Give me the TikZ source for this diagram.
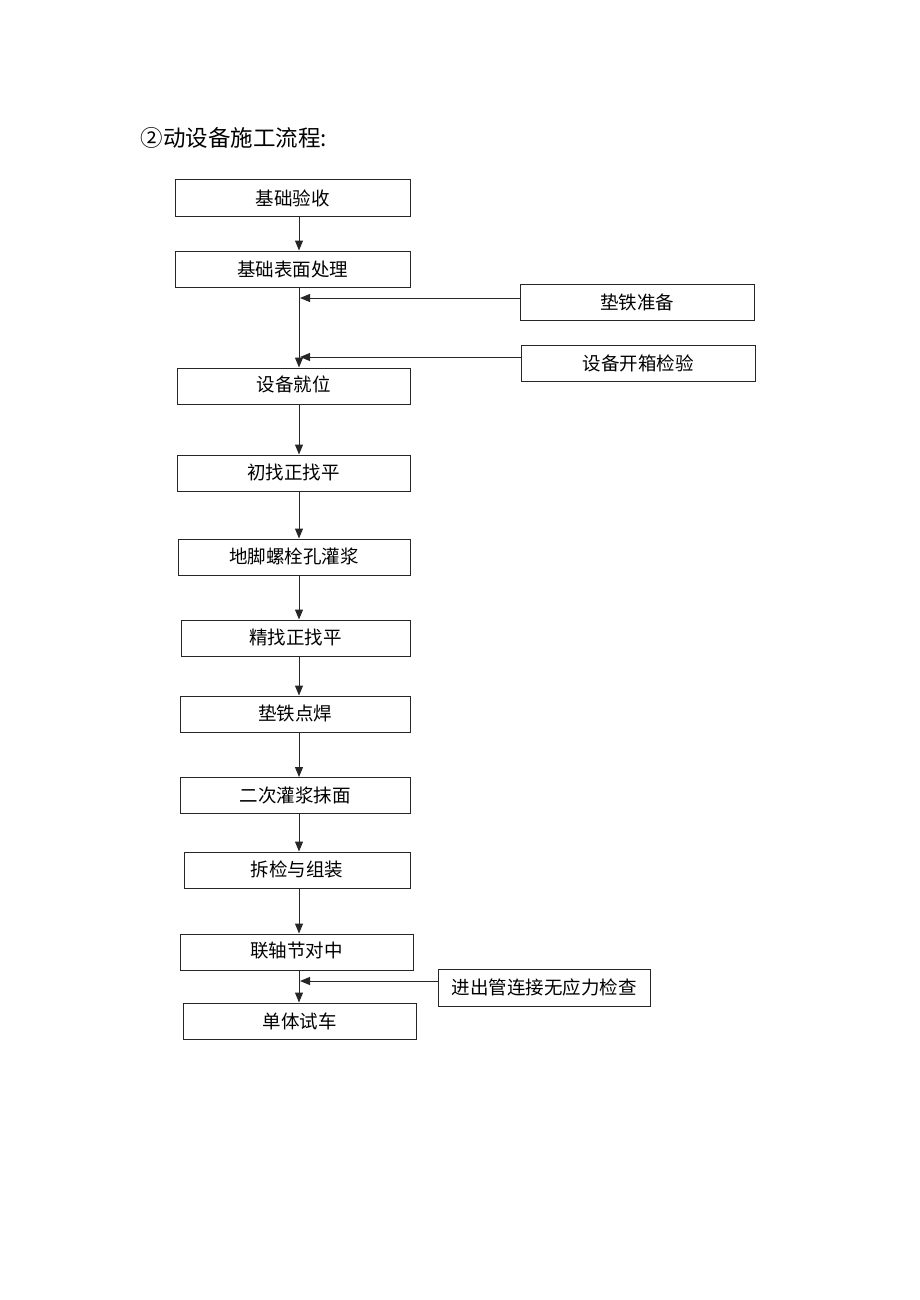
\documentclass[tikz,border=0pt]{standalone}
\usepackage{fontspec}
\setmainfont{Noto Sans CJK SC}
\usetikzlibrary{arrows.meta,calc}
\tikzset{
  box/.style={draw=black!85, line width=1pt, rectangle, inner sep=0pt, minimum height=36pt, font=\fontsize{18.5}{21}\selectfont},
  arr/.style={draw=black!85, line width=1pt, -{Triangle[length=10pt,width=8pt]}},
}
\begin{document}
\begin{tikzpicture}[x=1pt,y=-1pt]
\path[use as bounding box] (0,0) rectangle (920,1300);
\node[anchor=west, font=\fontsize{22.5}{26}\selectfont] (title) at (137,138) {②动设备施工流程:};
\coordinate (sp) at (299,0);
\node[box, minimum width=235pt] (b1) at (292.5,198) {基础验收};
\node[box, minimum width=235pt] (b2) at (292.5,269) {基础表面处理};
\node[box, minimum width=234pt] (b3) at (637,302) {垫铁准备};
\node[box, minimum width=234pt] (b4) at (638,363) {设备开箱检验};
\node[box, minimum width=233pt] (b5) at (293.5,386) {\raisebox{4pt}{设备就位}};
\node[box, minimum width=233pt] (b6) at (293.5,473) {\raisebox{3pt}{初找正找平}};
\node[box, minimum width=232pt] (b7) at (294,557) {\raisebox{3pt}{地脚螺栓孔灌浆}};
\node[box, minimum width=229pt] (b8) at (295.5,638) {\raisebox{3pt}{精找正找平}};
\node[box, minimum width=230pt] (b9) at (295,714) {\raisebox{3pt}{垫铁点焊}};
\node[box, minimum width=230pt] (b10) at (295,795.5) {\raisebox{2pt}{二次灌浆抹面}};
\node[box, minimum width=226pt] (b11) at (297,870) {\raisebox{2pt}{拆检与组装}};
\node[box, minimum width=233pt] (b12) at (296.5,952) {\raisebox{4pt}{联轴节对中}};
\node[box, minimum width=212pt, minimum height=37pt] (b13) at (544,987.5) {\raisebox{-3pt}{进出管连接无应力检查}};
\node[box, minimum width=233pt] (b14) at (299.5,1021) {单体试车};
\coordinate (j1) at (300,298);
\coordinate (j2) at (300,357);
\coordinate (j3) at (300,981);
\draw[arr] (b1.south -| sp) -- (b2.north -| sp);
\draw[arr] (b2.south -| sp) -- (b5.north -| sp);
\draw[arr] (b3.west |- j1) -- (j1);
\draw[arr] (b4.west |- j2) -- (j2);
\draw[arr] (b5.south -| sp) -- (b6.north -| sp);
\draw[arr] (b6.south -| sp) -- (b7.north -| sp);
\draw[arr] (b7.south -| sp) -- (b8.north -| sp);
\draw[arr] (b8.south -| sp) -- (b9.north -| sp);
\draw[arr] (b9.south -| sp) -- (b10.north -| sp);
\draw[arr] (b10.south -| sp) -- (b11.north -| sp);
\draw[arr] (b11.south -| sp) -- (b12.north -| sp);
\draw[arr] (b12.south -| sp) -- (b14.north -| sp);
\draw[arr] (b13.west |- j3) -- (j3);
\end{tikzpicture}
\end{document}
